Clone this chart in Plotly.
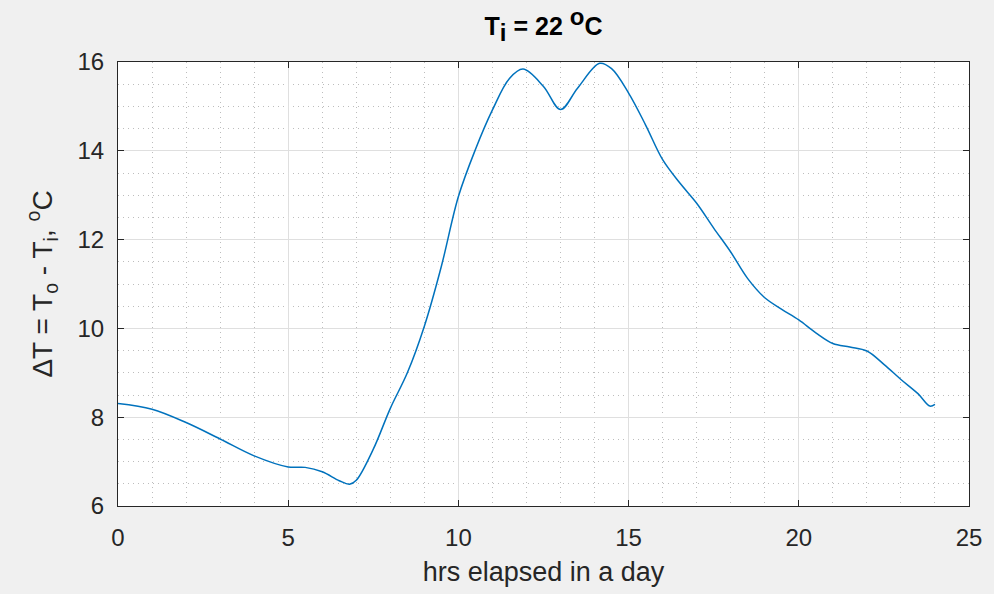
import plotly.graph_objects as go

hours = [0, 1, 2, 3, 4, 5, 5.5, 6, 6.5, 6.8, 7, 7.5, 8, 8.5, 9, 9.5, 10, 10.5, 11, 11.5,
         11.9, 12.5, 13, 13.5, 14.15, 14.5, 15, 15.5, 16, 16.5, 17, 17.5, 18, 18.5, 19,
         19.5, 20, 20.5, 21, 21.5, 22, 22.5, 23, 23.5, 23.85, 24]
delta_t = [8.31, 8.18, 7.88, 7.51, 7.13, 6.88, 6.87, 6.77, 6.57, 6.49, 6.58, 7.28, 8.2, 9.0,
           10.05, 11.4, 12.97, 14.03, 14.92, 15.63, 15.84, 15.45, 14.93, 15.41, 15.97, 15.85,
           15.3, 14.58, 13.8, 13.28, 12.82, 12.26, 11.72, 11.12, 10.69, 10.43, 10.19, 9.9,
           9.66, 9.58, 9.49, 9.19, 8.85, 8.53, 8.25, 8.29]

x_ticks = [0, 5, 10, 15, 20, 25]
y_ticks = [6, 8, 10, 12, 14, 16]

FONT = "Liberation Sans, Arial, Helvetica, sans-serif"
AX = "#262626"

fig = go.Figure()
fig.add_trace(go.Scatter(x=hours, y=delta_t, mode="lines",
                         line=dict(color="#0072BD", width=1.5, shape="spline", smoothing=1.0),
                         showlegend=False))

axis_common = dict(
    showline=True, linecolor=AX, linewidth=1, mirror="ticks",
    ticks="inside", ticklen=6, tickcolor=AX, tickwidth=1,
    showgrid=True, gridcolor="#dfdfdf", gridwidth=1,
    zeroline=False,
    tickfont=dict(family=FONT, size=24, color=AX),
)
minor_common = dict(showgrid=True, griddash="1px,4px", gridcolor="#bdbdbd", gridwidth=1, ticks="")

fig.update_xaxes(range=[0, 25], tickvals=x_ticks, **axis_common,
                 minor=dict(dtick=1, **minor_common),
                 title=dict(text="hrs elapsed in a day", font=dict(family=FONT, size=27, color=AX), standoff=12),
                 ticklabelstandoff=10)
fig.update_yaxes(range=[6, 16], tickvals=y_ticks, **axis_common,
                 minor=dict(dtick=0.5, **minor_common),
                 title=dict(text="ΔT = T<sub>o</sub> - T<sub>i</sub>, <sup>o</sup>C",
                            font=dict(family=FONT, size=28, color=AX), standoff=16),
                 ticklabelstandoff=8)

fig.update_layout(
    width=994, height=594,
    margin=dict(l=118, r=21, t=62, b=87),
    paper_bgcolor="#f0f0f0", plot_bgcolor="white",
    title=dict(text="<b>T<sub><span style='font-size:24px'>i</span></sub> = 22 "
                    "<sup><span style='font-size:24px'>o</span></sup>C</b>",
               x=0.5, xanchor="center",
               xref="paper", y=0.955, yanchor="middle",
               font=dict(family=FONT, size=25, color="#000000")),
)

fig.write_html("out.html")
